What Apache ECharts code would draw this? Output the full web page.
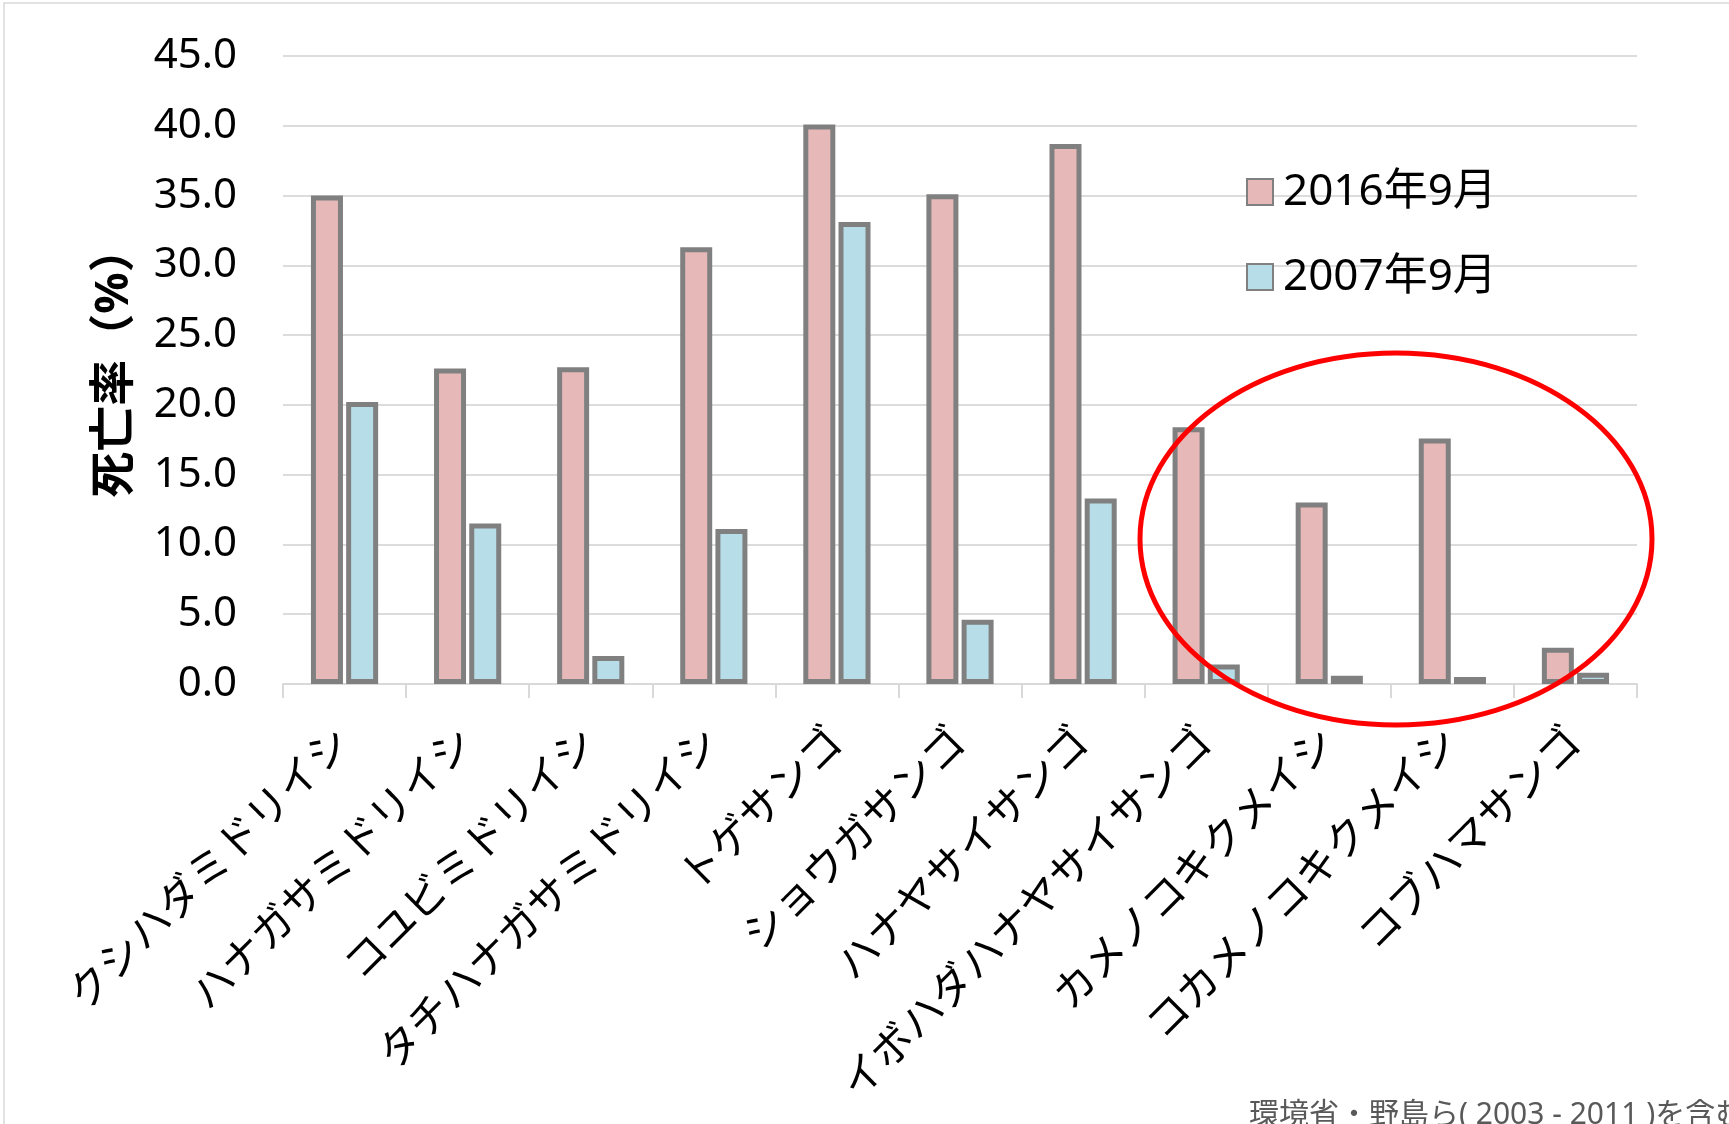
<!DOCTYPE html>
<html>
<head>
<meta charset="utf-8">
<script src="https://cdn.jsdelivr.net/npm/echarts@6/dist/echarts.min.js"></script>
<style>
html,body{margin:0;padding:0;background:#fff;}
#main{width:1729px;height:1124px;}
</style>
</head>
<body>
<div id="main"></div>
<script>
const categories = ['クシハダミドリイシ','ハナガサミドリイシ','コユビミドリイシ','タチハナガサミドリイシ','トゲサンゴ','ショウガサンゴ','ハナヤサイサンゴ','イボハダハナヤサイサンゴ','カメノコキクメイシ','コカメノコキクメイシ','コブハマサンゴ'];
const seriesNames = ['2016年9月','2007年9月'];
const values2016 = [35.0, 22.6, 22.7, 31.3, 40.1, 35.1, 38.7, 18.4, 13.0, 17.6, 2.6];
const values2007 = [20.2, 11.5, 2.0, 11.1, 33.1, 4.6, 13.3, 1.4, 0.6, 0.5, 0.8];
const yTicks = {min: 0, max: 45, interval: 5};
const yTitle = '死亡率（%）';
const footnote = '環境省・野島ら( 2003 - 2011 )を含む';

const FONT = "'Noto Sans', 'Noto Sans CJK JP', sans-serif";
const chart = echarts.init(document.getElementById('main'));
chart.setOption({
  animation: false,
  backgroundColor: '#ffffff',
  grid: {left: 283, right: 92, top: 56, bottom: 440, containLabel: false},
  legend: {
    orient: 'vertical',
    left: 1241, top: 165,
    icon: 'rect',
    itemWidth: 26, itemHeight: 26, itemGap: 41,
    textStyle: {fontSize: 44, fontFamily: FONT, color: '#000', padding: [0,0,0,5]},
    data: seriesNames
  },
  xAxis: {
    type: 'category',
    data: categories,
    axisLine: {show: true, lineStyle: {color: '#d9d9d9', width: 2}},
    axisTick: {show: true, length: 14, lineStyle: {color: '#d9d9d9', width: 2}},
    axisLabel: {interval: 0, rotate: 45, fontSize: 42, fontFamily: FONT, color: '#000', margin: 52}
  },
  yAxis: {
    type: 'value',
    min: yTicks.min, max: yTicks.max, interval: yTicks.interval,
    axisLine: {show: false}, axisTick: {show: false},
    splitLine: {lineStyle: {color: '#dcdcdc', width: 2}},
    axisLabel: {fontSize: 42, fontFamily: FONT, color: '#000', margin: 46, formatter: v => v.toFixed(1)}
  },
  series: [
    {name: seriesNames[0], type: 'bar', data: values2016, barWidth: 32, barGap: '10%',
     itemStyle: {color: '#e6b9b8', borderColor: '#808080', borderWidth: 5}},
    {name: seriesNames[1], type: 'bar', data: values2007, barWidth: 32, barGap: '10%',
     itemStyle: {color: '#b7dee8', borderColor: '#808080', borderWidth: 5}}
  ],
  graphic: [
    {type: 'rect', silent: true, shape: {x: 4, y: 3, width: 1900, height: 1300},
     style: {fill: 'none', stroke: '#d9d9d9', lineWidth: 1.5}},
    {type: 'text', x: 115, y: 362, rotation: Math.PI / 2,
     style: {text: yTitle, fontSize: 46, fontWeight: 'bold', fontFamily: FONT, fill: '#000', align: 'center', verticalAlign: 'middle'}},
    {type: 'ellipse', silent: true, shape: {cx: 1396, cy: 539, rx: 256, ry: 186},
     style: {fill: 'none', stroke: '#ff0000', lineWidth: 5}, z: 100},
    {type: 'text', x: 1249, y: 1100,
     style: {text: footnote, fontSize: 30, fontFamily: FONT, fill: '#595959', align: 'left', verticalAlign: 'top'}}
  ]
});
</script>
</body>
</html>
